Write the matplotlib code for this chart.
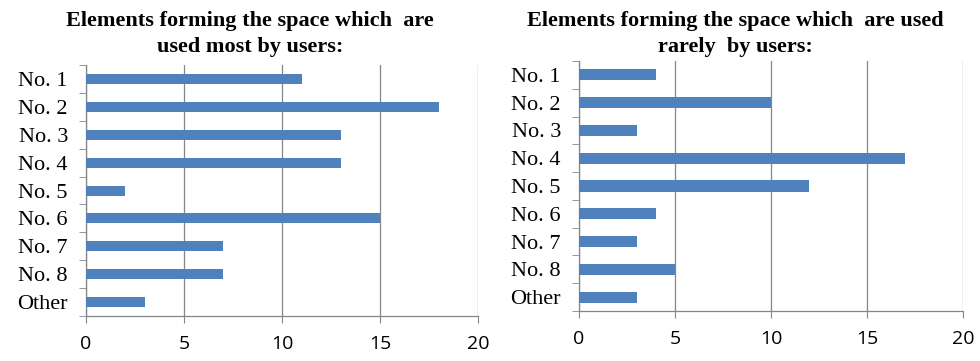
import numpy as np
import matplotlib
matplotlib.use('Agg')
import matplotlib.pyplot as plt

# data
categories = ['No. 1', 'No. 2', 'No. 3', 'No. 4', 'No. 5', 'No. 6', 'No. 7', 'No. 8', 'Other']
most_used = [11, 18, 13, 13, 2, 15, 7, 7, 3]
rarely_used = [4, 10, 3, 17, 12, 4, 3, 5, 3]
x_ticks = [0, 5, 10, 15, 20]

titles = ['Elements forming the space which  are\nused most by users:',
          'Elements forming the space which  are used\nrarely  by users:']

bar_color = '#4F81BD'
grid_color = '#868686'

fig = plt.figure(figsize=(9.8, 3.61), dpi=100)
ax1 = fig.add_axes([0.0878, 0.1247, 0.400, 0.695])
ax2 = fig.add_axes([0.5908, 0.1385, 0.3918, 0.6925])


def draw(ax, values, bar_h):
    y = np.arange(len(categories))
    ax.barh(y, values, height=bar_h, color=bar_color, zorder=3)
    ax.set_ylim(len(categories) - 0.5, -0.5)
    ax.set_xlim(0, 20)
    ax.set_xticks(x_ticks)
    ax.set_xticklabels([str(t) for t in x_ticks], family='Open Sans', fontsize=14)
    ax.set_yticks(y)
    ax.set_yticklabels(categories, family='Liberation Serif', fontsize=16)
    ax.set_yticks(np.arange(len(categories) + 1) - 0.5, minor=True)
    ax.tick_params(axis='y', which='major', length=0, pad=13)
    ax.tick_params(axis='y', which='minor', length=5, color=grid_color)
    ax.tick_params(axis='x', length=5, color=grid_color, pad=9)
    ax.xaxis.grid(True, color=grid_color, linewidth=0.9, zorder=0)
    for s in ['top', 'right']:
        ax.spines[s].set_visible(False)
    for s in ['left', 'bottom']:
        ax.spines[s].set_color(grid_color)
        ax.spines[s].set_linewidth(0.9)


draw(ax1, most_used, 0.36)
draw(ax2, rarely_used, 0.4)

fig.text(0.255, 0.97, titles[0], ha='center', va='top', family='Liberation Serif',
         fontweight='bold', fontsize=16, linespacing=1.4)
fig.text(0.75, 0.97, titles[1], ha='center', va='top', family='Liberation Serif',
         fontweight='bold', fontsize=16, linespacing=1.4)

fig.savefig('out.png', dpi=100)
